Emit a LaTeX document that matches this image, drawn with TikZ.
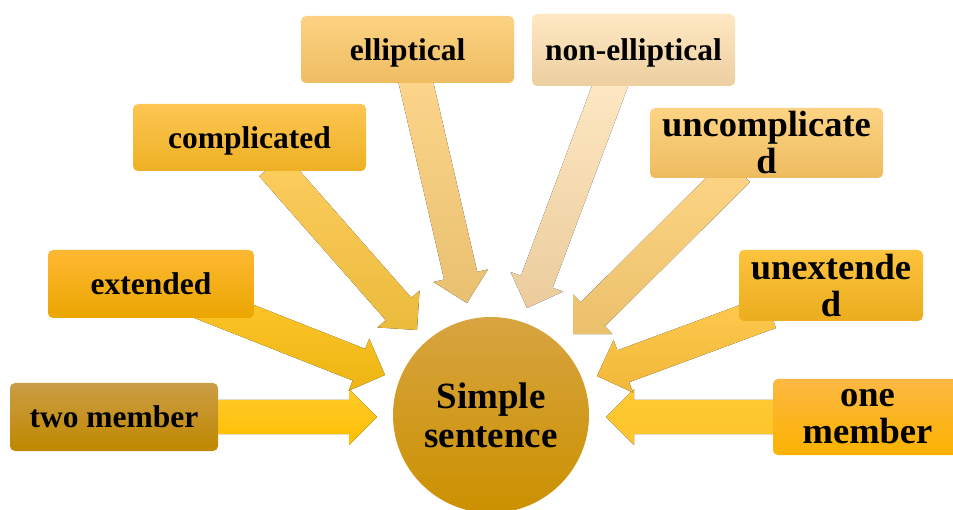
\documentclass[tikz,border=0pt]{standalone}
\usepackage{fontspec}
\setmainfont{Liberation Serif}
\usetikzlibrary{calc}
\definecolor{c2mT}{HTML}{CB9D45}\definecolor{c2mB}{HTML}{BF8800}
\definecolor{cexT}{HTML}{FDB833}\definecolor{cexB}{HTML}{EBA600}
\definecolor{ccoT}{HTML}{FEC652}\definecolor{ccoB}{HTML}{EDB024}
\definecolor{celT}{HTML}{FCD282}\definecolor{celB}{HTML}{EEBD62}
\definecolor{cneT}{HTML}{FEE8C3}\definecolor{cneB}{HTML}{EDCFA0}
\definecolor{cucT}{HTML}{FDD383}\definecolor{cucB}{HTML}{EDBC5F}
\definecolor{cueT}{HTML}{FDC33E}\definecolor{cueB}{HTML}{EBAD1E}
\definecolor{c1mT}{HTML}{FDB843}\definecolor{c1mB}{HTML}{FBB200}
\definecolor{ccT}{HTML}{D8A440}\definecolor{ccB}{HTML}{CB9100}
\definecolor{a2mT}{HTML}{FFCA2C}\definecolor{a2mB}{HTML}{FFBF00}
\definecolor{a1mT}{HTML}{FFC933}\definecolor{a1mB}{HTML}{FCC52A}
\definecolor{aexT}{HTML}{FFC72C}\definecolor{aexB}{HTML}{EDB512}
\definecolor{acoT}{HTML}{FDCD60}\definecolor{acoB}{HTML}{EBBB3C}
\definecolor{aelT}{HTML}{FDD68C}\definecolor{aelB}{HTML}{E9C070}
\definecolor{aneT}{HTML}{FEE8C4}\definecolor{aneB}{HTML}{EBCC9C}
\definecolor{aucT}{HTML}{FDD686}\definecolor{aucB}{HTML}{EBC06B}
\definecolor{aueT}{HTML}{FECA4E}\definecolor{aueB}{HTML}{F0B83A}
\newcommand\blockarr[4]{%
  \path ($(#2)!28pt!(#1)$) coordinate (hb);
  \fill[top color=#3,bottom color=#4]
    ($(#1)!17pt!90:(#2)$) -- ($(hb)!17pt!90:(#2)$) -- ($(hb)!28pt!90:(#2)$) --
    (#2) -- ($(hb)!28pt!-90:(#2)$) -- ($(hb)!17pt!-90:(#2)$) --
    ($(#1)!17pt!-90:(#2)$) -- cycle;}
\tikzset{
  boxbase/.style={rectangle, rounded corners=5pt, inner sep=0pt, align=center},
  box/.style={boxbase, font=\bfseries\fontsize{31.5}{37}\selectfont, text height=21.5pt, text depth=0pt},
  bigbox/.style={boxbase, font=\bfseries\fontsize{36.5}{37}\selectfont},
}
\begin{document}
\begin{tikzpicture}[x=1pt,y=-1pt]
\useasboundingbox (0,0) rectangle (953,510);
% arrow end points
\coordinate (s2m) at (212,417);  \coordinate (t2m) at (377,417);
\coordinate (s1m) at (780,417);  \coordinate (t1m) at (606,417);
\coordinate (sex) at (195,300);  \coordinate (tex) at (385,375);
\coordinate (sco) at (272,165);  \coordinate (tco) at (417,330);
\coordinate (sel) at (413,70);   \coordinate (tel) at (467,303);
\coordinate (sne) at (613,78);   \coordinate (tne) at (527,308);
\coordinate (suc) at (738,170);  \coordinate (tuc) at (573,334);
\coordinate (sue) at (770,312);  \coordinate (tue) at (597,376);
\blockarr{s2m}{t2m}{a2mT}{a2mB}
\blockarr{s1m}{t1m}{a1mT}{a1mB}
\blockarr{sex}{tex}{aexT}{aexB}
\blockarr{sco}{tco}{acoT}{acoB}
\blockarr{sel}{tel}{aelT}{aelB}
\blockarr{sne}{tne}{aneT}{aneB}
\blockarr{suc}{tuc}{aucT}{aucB}
\blockarr{sue}{tue}{aueT}{aueB}
% boxes
\node[box, minimum width=208pt, minimum height=68pt, top color=c2mT, bottom color=c2mB] (twomember) at (114,417) {two member};
\node[box, minimum width=206pt, minimum height=68pt, top color=cexT, bottom color=cexB] (extended) at (151,284) {extended};
\node[box, minimum width=233pt, minimum height=67pt, top color=ccoT, bottom color=ccoB] (complicated) at (249.5,137.5) {complicated};
\node[box, minimum width=213pt, minimum height=67pt, top color=celT, bottom color=celB] (elliptical) at (407.5,49.5) {elliptical};
\node[box, minimum width=203pt, minimum height=72pt, top color=cneT, bottom color=cneB] (nonelliptical) at (633.5,50) {non-elliptical};
\node[bigbox, minimum width=233pt, minimum height=70pt, top color=cucT, bottom color=cucB] (uncomplicated) at (766.5,143) {uncomplicate\\d};
\node[bigbox, minimum width=184pt, minimum height=71pt, top color=cueT, bottom color=cueB] (unextended) at (831,285.5) {unextende\\d};
\node[bigbox, minimum width=189pt, minimum height=76pt, top color=c1mT, bottom color=c1mB] (onemember) at (867.5,417) {one\\member};
\node[circle, minimum size=196pt, inner sep=0pt, align=center, top color=ccT, bottom color=ccB,
  font=\bfseries\fontsize{37}{39}\selectfont] (simple) at (491,415) {Simple\\sentence};
\end{tikzpicture}
\end{document}
